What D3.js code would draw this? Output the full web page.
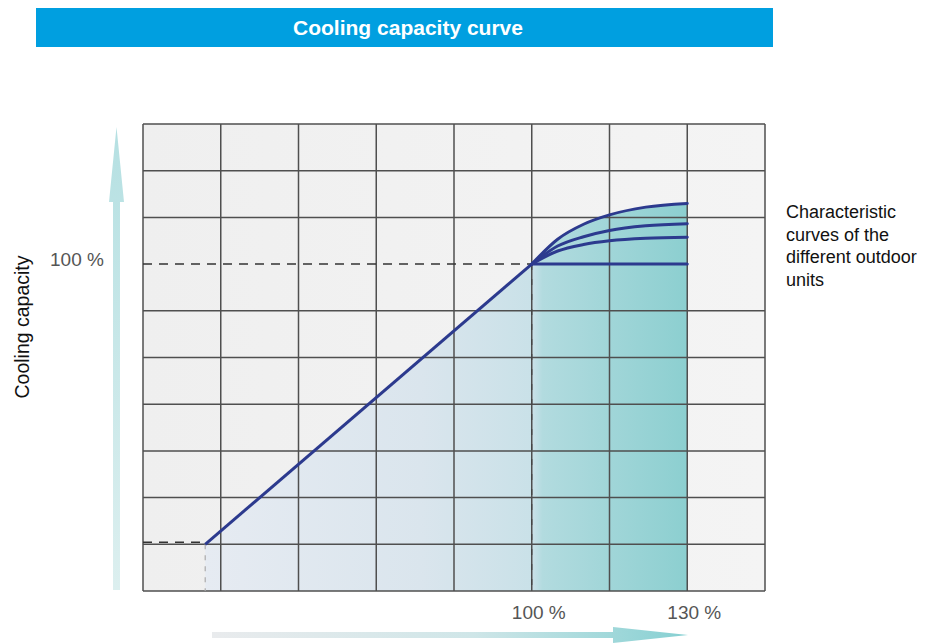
<!DOCTYPE html>
<html>
<head>
<meta charset="utf-8">
<script src="https://cdn.jsdelivr.net/npm/d3@7"></script>
<style>
  body { margin: 0; background: #fff; }
  svg { display: block; font-family: "Liberation Sans", Arial, sans-serif; }
</style>
</head>
<body>
<svg class="cap-chart" width="927" height="644"></svg>
<script>
// chart values (percent of nominal)
var title = 'Cooling capacity curve';
var yLabel = 'Cooling capacity';
var noteLines = ['Characteristic', 'curves of the', 'different outdoor', 'units'];
var xGrid = [25, 40, 55, 70, 85, 100, 115, 130, 145];
var yGrid = [-5, 10, 25, 40, 55, 70, 85, 115, 130, 145];
var xTickValues = [100, 130];
var xTickLabels = ['100 %', '130 %'];
var yTickValues = [100];
var yTickLabels = ['100 %'];
var startPoint = {x: 37, y: 10};
var nominalPoint = {x: 100, y: 100};
// the different outdoor units, from 100 % to 130 %
var unitCurves = [
  [[100, 100], [105, 108], [110, 112.8], [115, 115.8], [122, 118.3], [130, 119.5]],
  [[100, 100], [105, 105.8], [110, 108.8], [115, 110.8], [122, 112.3], [130, 113]],
  [[100, 100], [105, 104.2], [110, 106.3], [115, 107.5], [122, 108.3], [130, 108.6]],
  [[100, 100], [130, 100]]
];

var svg = d3.select('svg.cap-chart');

// scales - one grid step is 15 %
var xScale = d3.scaleLinear().domain([25, 145]).range([143, 765]);
var yScale = d3.scaleLinear().domain([-5, 145]).range([591, 124]);

var defs = svg.append('defs');

// title bar
svg.append('rect')
    .attr('x', 36).attr('y', 8)
    .attr('width', 737).attr('height', 39)
    .attr('fill', '#009fe0');
svg.append('text')
    .attr('x', 408).attr('y', 35)
    .attr('text-anchor', 'middle')
    .attr('fill', '#fff')
    .attr('font-weight', 'bold')
    .attr('font-size', 21)
    .text(title);

// background of the grid
var bgGrad = defs.append('linearGradient').attr('id', 'bgGrad')
    .attr('x1', 0).attr('x2', 1).attr('y1', 0).attr('y2', 0);
bgGrad.append('stop').attr('offset', 0).attr('stop-color', '#efefef');
bgGrad.append('stop').attr('offset', 1).attr('stop-color', '#f4f4f4');
svg.append('rect')
    .attr('x', xScale(25)).attr('y', yScale(145))
    .attr('width', xScale(145) - xScale(25))
    .attr('height', yScale(-5) - yScale(145))
    .attr('fill', 'url(#bgGrad)');

// shaded area under the highest curve
var areaGrad = defs.append('linearGradient').attr('id', 'areaGrad')
    .attr('gradientUnits', 'userSpaceOnUse')
    .attr('x1', xScale(startPoint.x)).attr('x2', xScale(130))
    .attr('y1', 0).attr('y2', 0);
[[0, '#e6ebf2'], [0.45, '#dae5ed'], [0.68, '#c9e1e8'], [0.7, '#b2dbdf'], [1, '#8ccfd0']]
  .forEach(function(s) {
    areaGrad.append('stop').attr('offset', s[0]).attr('stop-color', s[1]);
  });

var area = d3.area()
    .x(function(d) { return xScale(d[0]); })
    .y0(yScale(-5))
    .y1(function(d) { return yScale(d[1]); });
// straight part, then the highest unit curve
svg.append('path')
    .attr('d', area([[startPoint.x, startPoint.y], [nominalPoint.x + 0.3, nominalPoint.y + 0.4]]))
    .attr('fill', 'url(#areaGrad)');
svg.append('path')
    .attr('d', area.curve(d3.curveMonotoneX)(unitCurves[0]))
    .attr('fill', 'url(#areaGrad)');

// grid
var gridG = svg.append('g').attr('class', 'grid')
    .attr('stroke', '#4f4f4f').attr('stroke-width', 1.5);
gridG.selectAll('line.v').data(xGrid).enter().append('line')
    .attr('class', 'v')
    .attr('x1', function(d) { return xScale(d); })
    .attr('x2', function(d) { return xScale(d); })
    .attr('y1', yScale(145)).attr('y2', yScale(-5));
gridG.selectAll('line.h').data(yGrid).enter().append('line')
    .attr('class', 'h')
    .attr('x1', xScale(25)).attr('x2', xScale(145))
    .attr('y1', function(d) { return yScale(d); })
    .attr('y2', function(d) { return yScale(d); });

// dashed guide lines
var dashG = svg.append('g').attr('fill', 'none');
dashG.append('line')
    .attr('x1', xScale(25)).attr('x2', xScale(nominalPoint.x))
    .attr('y1', yScale(nominalPoint.y)).attr('y2', yScale(nominalPoint.y))
    .attr('stroke', '#333').attr('stroke-width', 1.5)
    .attr('stroke-dasharray', '9,7');
dashG.append('line')
    .attr('x1', xScale(25)).attr('x2', xScale(startPoint.x))
    .attr('y1', yScale(startPoint.y) - 2).attr('y2', yScale(startPoint.y) - 2)
    .attr('stroke', '#333').attr('stroke-width', 1.5)
    .attr('stroke-dasharray', '9,7');
dashG.append('line')
    .attr('x1', xScale(nominalPoint.x)).attr('x2', xScale(nominalPoint.x))
    .attr('y1', yScale(nominalPoint.y)).attr('y2', yScale(-5))
    .attr('stroke', '#444').attr('stroke-width', 1.2)
    .attr('stroke-dasharray', '6,9');
dashG.append('line')
    .attr('x1', xScale(startPoint.x)).attr('x2', xScale(startPoint.x))
    .attr('y1', yScale(startPoint.y)).attr('y2', yScale(-5))
    .attr('stroke', '#aaa').attr('stroke-width', 1.2)
    .attr('stroke-dasharray', '5,6');

// capacity lines
var line = d3.line()
    .x(function(d) { return xScale(d[0]); })
    .y(function(d) { return yScale(d[1]); })
    .curve(d3.curveMonotoneX);
svg.append('path')
    .attr('d', line([[startPoint.x, startPoint.y], [nominalPoint.x, nominalPoint.y]]))
    .attr('fill', 'none')
    .attr('stroke', '#2c3a8e').attr('stroke-width', 3);
svg.selectAll('path.unit').data(unitCurves).enter().append('path')
    .attr('class', 'unit')
    .attr('d', line)
    .attr('fill', 'none')
    .attr('stroke', '#2c3a8e').attr('stroke-width', 3)
    .attr('stroke-linecap', 'round');

// axis arrows
var yArrowGrad = defs.append('linearGradient').attr('id', 'yArrowGrad')
    .attr('x1', 0).attr('x2', 0).attr('y1', 1).attr('y2', 0);
yArrowGrad.append('stop').attr('offset', 0).attr('stop-color', '#dcefef');
yArrowGrad.append('stop').attr('offset', 1).attr('stop-color', '#b5e0e2');
svg.append('path')
    .attr('d', 'M116.5,127 L124,202 L120,202 L120,590 L113,590 L113,202 L109,202 Z')
    .attr('fill', 'url(#yArrowGrad)');

var xArrowGrad = defs.append('linearGradient').attr('id', 'xArrowGrad')
    .attr('x1', 0).attr('x2', 1).attr('y1', 0).attr('y2', 0);
xArrowGrad.append('stop').attr('offset', 0).attr('stop-color', '#e9ebed');
xArrowGrad.append('stop').attr('offset', 0.55).attr('stop-color', '#cfe6e8');
xArrowGrad.append('stop').attr('offset', 1).attr('stop-color', '#86d0d2');
svg.append('path')
    .attr('d', 'M212,632 L613,632 L613,627 L688,635 L613,643 L613,638 L212,638 Z')
    .attr('fill', 'url(#xArrowGrad)');

// tick labels
svg.selectAll('text.xtick').data(xTickValues).enter().append('text')
    .attr('class', 'xtick')
    .attr('x', function(d) { return xScale(d) + 7; })
    .attr('y', 619)
    .attr('text-anchor', 'middle')
    .attr('font-size', 19)
    .attr('fill', '#555')
    .text(function(d, i) { return xTickLabels[i]; });
svg.selectAll('text.ytick').data(yTickValues).enter().append('text')
    .attr('class', 'ytick')
    .attr('x', 50)
    .attr('y', function(d) { return yScale(d) + 2; })
    .attr('font-size', 19)
    .attr('fill', '#555')
    .text(function(d, i) { return yTickLabels[i]; });

// axis title
svg.append('text')
    .attr('transform', 'translate(29,327) rotate(-90)')
    .attr('text-anchor', 'middle')
    .attr('font-size', 19.5)
    .attr('fill', '#111')
    .text(yLabel);

// note at the right
svg.append('text')
    .attr('x', 786).attr('y', 218)
    .attr('font-size', 18)
    .attr('fill', '#111')
    .selectAll('tspan').data(noteLines).enter().append('tspan')
    .attr('x', 786)
    .attr('dy', function(d, i) { return i === 0 ? 0 : 22.5; })
    .text(function(d) { return d; });
</script>
</body>
</html>
